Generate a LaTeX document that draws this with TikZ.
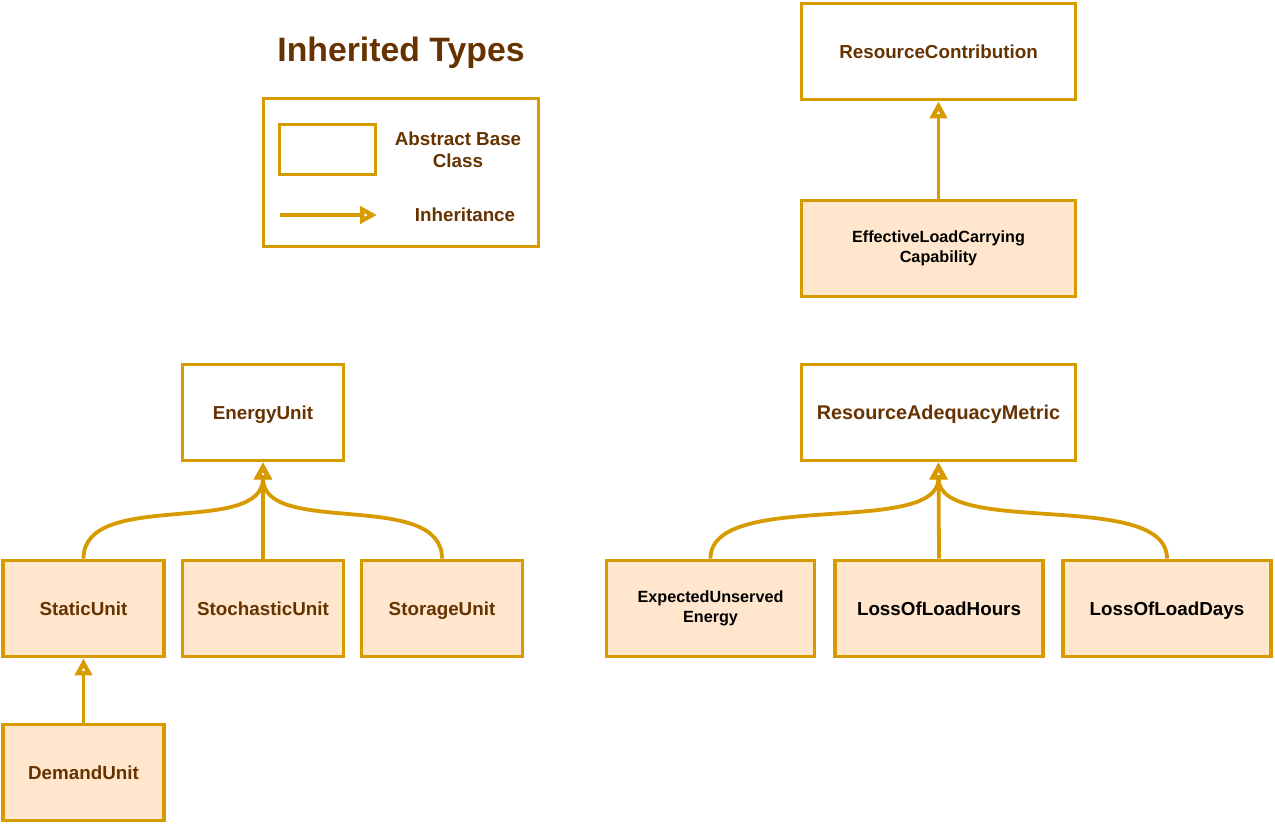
\documentclass[tikz,border=0pt]{standalone}
\usepackage{fontspec}
\setmainfont{Liberation Sans}
\usetikzlibrary{arrows.meta}
\definecolor{umlorange}{RGB}{215,155,0}
\definecolor{umlfill}{RGB}{255,230,204}
\definecolor{umlbrown}{RGB}{102,51,0}
\tikzset{
  box/.style={
    draw=umlorange,
    line width=3.8pt,
    align=center,
    inner sep=0pt,
    text=umlbrown,
    text height=14pt,
    text depth=0pt,
    font=\bfseries\fontsize{18.8}{22}\selectfont
  },
  abstract/.style={box, fill=white},
  concrete/.style={box, fill=umlfill},
  narrow/.style={minimum width=161pt, minimum height=96pt},
  medium/.style={minimum width=208pt, minimum height=96pt},
  wide/.style={minimum width=274pt, minimum height=96pt},
  small-black/.style={text=black, text height={}, text depth={}, font=\bfseries\fontsize{16.2}{20}\selectfont},
  big-black/.style={text=black},
  inherit/.style={
    draw=umlorange,
    line width=3.8pt,
    -{Triangle[open, length=17pt, width=17pt, line width=4.4pt]}
  },
  legend-text/.style={text=umlbrown, align=center, font=\bfseries\fontsize{18.8}{22}\selectfont}
}

\begin{document}
\begin{tikzpicture}[x=1pt, y=-1pt]
  \useasboundingbox (0,0) rectangle (1275,824);

  % Legend
  \node[anchor=base, text=umlbrown, font=\bfseries\fontsize{33.8}{40}\selectfont] (title) at (401,62) {Inherited Types};
  \node[draw=umlorange, line width=3.8pt, minimum width=275pt, minimum height=148pt] (legend) at (401,172.5) {};
  \node[abstract, minimum width=96pt, minimum height=50pt] (legend-box) at (327.5,149.5) {};
  \node[legend-text] (legend-box-text) at (458,150) {Abstract Base\\Class};
  \coordinate (legend-from) at (280,215);
  \coordinate (legend-to) at (377,215);
  \draw[inherit] (legend-from) -- (legend-to);
  \node[legend-text, text height=14pt, text depth=0pt] (legend-arrow-text) at (465,215) {Inheritance};

  % Resource contribution
  \node[abstract, wide] (contribution) at (938.5,51.5) {ResourceContribution};
  \node[concrete, wide, small-black] (elcc) at (938.5,248.5) {EffectiveLoadCarrying\\Capability};
  \draw[inherit] (elcc.north) -- (contribution.south);

  % Energy units
  \node[abstract, narrow] (energy) at (263,412.5) {EnergyUnit};
  \node[concrete, narrow] (static) at (83.5,608.5) {StaticUnit};
  \node[concrete, narrow] (stochastic) at (263,608.5) {StochasticUnit};
  \node[concrete, narrow] (storage) at (442,608.5) {StorageUnit};
  \node[concrete, narrow] (demand) at (83.5,772.5) {DemandUnit};
  \draw[inherit] (static.north) .. controls +(0,-70) and +(0,75) .. (energy.south);
  \draw[inherit] (stochastic.north) -- (energy.south);
  \draw[inherit] (storage.north) .. controls +(0,-70) and +(0,75) .. (energy.south);
  \draw[inherit] (demand.north) -- (static.south);

  % Adequacy metrics
  \node[abstract, wide, font=\bfseries\fontsize{19.8}{22}\selectfont] (metric) at (938.5,412.5) {ResourceAdequacyMetric};
  \node[concrete, medium, small-black] (eue) at (710.5,608.5) {ExpectedUnserved\\Energy};
  \node[concrete, medium, big-black] (lolh) at (939,608.5) {LossOfLoadHours};
  \node[concrete, medium, big-black] (lold) at (1167,608.5) {LossOfLoadDays};
  \draw[inherit] (eue.north) .. controls +(0,-70) and +(0,75) .. (metric.south);
  \draw[inherit] (lolh.north) -- (metric.south);
  \draw[inherit] (lold.north) .. controls +(0,-70) and +(0,75) .. (metric.south);
\end{tikzpicture}
\end{document}
